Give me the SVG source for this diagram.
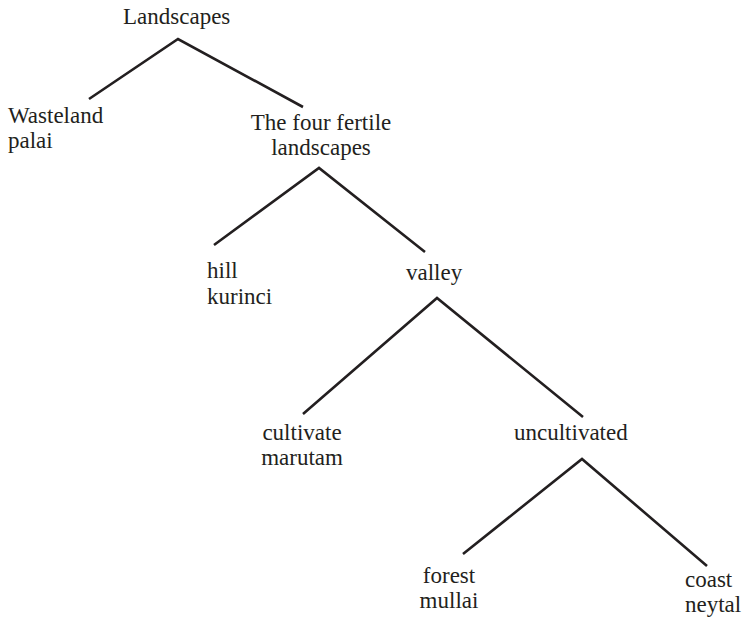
<svg xmlns="http://www.w3.org/2000/svg" width="748" height="623" viewBox="0 0 748 623">
  <style>
    text { font-family: 'Liberation Serif', 'Times New Roman', 'DejaVu Serif', serif; font-size: 23px; fill: #231f20; }
    .branch { fill: none; stroke: #231f20; stroke-width: 2.6; stroke-linejoin: miter; stroke-linecap: butt; }
  </style>
  <rect width="748" height="623" fill="#ffffff"/>

  <!-- tree branches -->
  <g id="connectors">
    <polyline class="branch" points="89,99 178,39 303,107"/>
    <polyline class="branch" points="214,245 319,168 425,252"/>
    <polyline class="branch" points="303,414 437,298 583,417"/>
    <polyline class="branch" points="463,554 582,459 707,566"/>
  </g>

  <g font-family="Liberation Serif, serif" font-size="23">
    <g id="landscapes">
      <text x="123" y="24">Landscapes</text>
    </g>
    <g id="wasteland">
      <text x="8" y="123">Wasteland</text>
      <text x="8" y="148">palai</text>
    </g>
    <g id="fertile">
      <text x="321" y="130" text-anchor="middle">The four fertile</text>
      <text x="321" y="155" text-anchor="middle">landscapes</text>
    </g>
    <g id="hill">
      <text x="207" y="278">hill</text>
      <text x="207" y="304">kurinci</text>
    </g>
    <g id="valley">
      <text x="406" y="280">valley</text>
    </g>
    <g id="cultivate">
      <text x="302" y="440" text-anchor="middle">cultivate</text>
      <text x="302" y="465" text-anchor="middle">marutam</text>
    </g>
    <g id="uncultivated">
      <text x="514" y="440">uncultivated</text>
    </g>
    <g id="forest">
      <text x="449" y="583" text-anchor="middle">forest</text>
      <text x="449" y="608" text-anchor="middle">mullai</text>
    </g>
    <g id="coast">
      <text x="685" y="587">coast</text>
      <text x="685" y="612">neytal</text>
    </g>
  </g>
</svg>
